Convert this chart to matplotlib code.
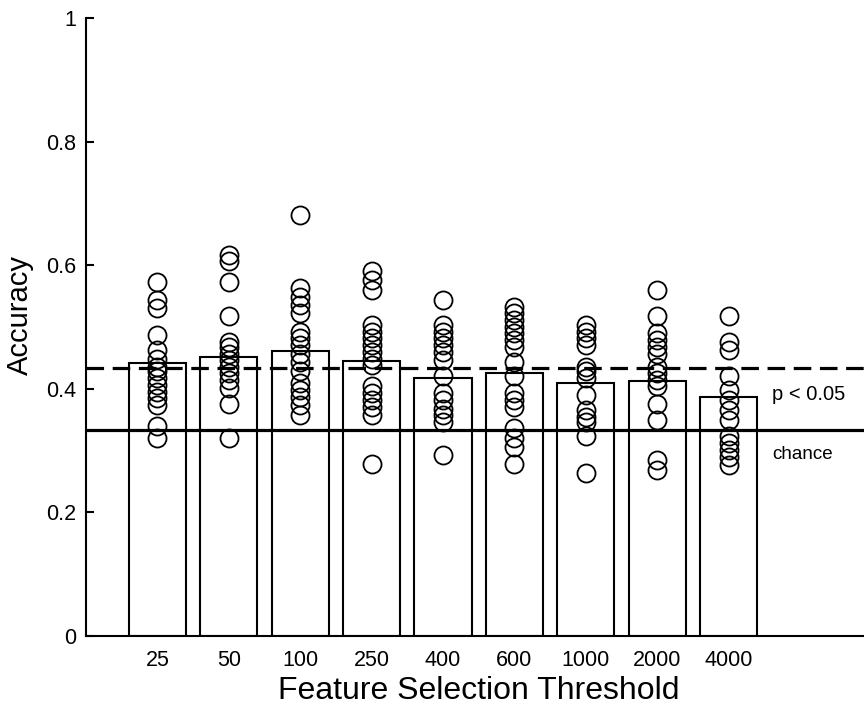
import matplotlib
matplotlib.use("Agg")
import matplotlib.pyplot as plt

plt.rcParams['font.family'] = ['Liberation Sans', 'DejaVu Sans']

thresholds = ["25", "50", "100", "250", "400", "600", "1000", "2000", "4000"]
mean_acc = [0.441, 0.452, 0.461, 0.445, 0.418, 0.425, 0.409, 0.412, 0.386]

subj_25 = [0.573, 0.544, 0.530, 0.487, 0.463, 0.449, 0.436, 0.428, 0.417, 0.406,
           0.395, 0.385, 0.374, 0.339, 0.320]
subj_50 = [0.617, 0.606, 0.573, 0.517, 0.476, 0.468, 0.457, 0.447, 0.436, 0.425,
           0.414, 0.401, 0.376, 0.320]
subj_100 = [0.681, 0.563, 0.549, 0.536, 0.522, 0.492, 0.482, 0.471, 0.457, 0.444,
            0.428, 0.409, 0.398, 0.387, 0.374, 0.358]
subj_250 = [0.590, 0.576, 0.560, 0.503, 0.492, 0.482, 0.471, 0.460, 0.449, 0.439,
            0.404, 0.393, 0.382, 0.371, 0.358, 0.279]
subj_400 = [0.544, 0.503, 0.492, 0.482, 0.471, 0.460, 0.447, 0.420, 0.393, 0.382,
            0.368, 0.358, 0.347, 0.293]
subj_600 = [0.533, 0.522, 0.511, 0.500, 0.490, 0.479, 0.468, 0.444, 0.420, 0.393,
            0.382, 0.371, 0.336, 0.320, 0.306, 0.279]
subj_1000 = [0.503, 0.492, 0.482, 0.471, 0.436, 0.428, 0.417, 0.390, 0.366, 0.355,
             0.347, 0.323, 0.263]
subj_2000 = [0.560, 0.517, 0.490, 0.479, 0.468, 0.457, 0.436, 0.425, 0.414, 0.404,
             0.376, 0.350, 0.285, 0.269]
subj_4000 = [0.517, 0.476, 0.463, 0.420, 0.398, 0.382, 0.366, 0.350, 0.323, 0.312,
             0.301, 0.290, 0.277]
subjects = [subj_25, subj_50, subj_100, subj_250, subj_400, subj_600,
            subj_1000, subj_2000, subj_4000]

chance_level = 1.0 / 3.0
p05_level = 0.433

fig = plt.figure(figsize=(8.64, 7.08), dpi=100)
ax = fig.add_axes([0.0995, 0.1017, 0.909, 0.8729])

xs = list(range(1, len(thresholds) + 1))
ax.bar(xs, mean_acc, width=0.8, facecolor='white', edgecolor='black',
       linewidth=1.5, zorder=1)

ax.axhline(p05_level, color='black', linewidth=2.3, dashes=(5.5, 2.7), zorder=2)
ax.axhline(chance_level, color='black', linewidth=2.3, zorder=2)

for x, vals in zip(xs, subjects):
    ax.plot([x] * len(vals), vals, linestyle='none', marker='o', markersize=13,
            markerfacecolor='none', markeredgecolor='black',
            markeredgewidth=1.3, zorder=3)

ax.text(9.61, 0.390, "p < 0.05", fontsize=14.5, va='center', ha='left')
ax.text(9.61, 0.293, "chance", fontsize=13.5, va='center', ha='left')

ax.set_xlim(0, 11)
ax.set_ylim(0, 1)
ax.set_xticks(xs)
ax.set_xticklabels(thresholds, fontsize=15.5)
ax.set_yticks([0, 0.2, 0.4, 0.6, 0.8, 1.0])
ax.set_yticklabels(["0", "0.2", "0.4", "0.6", "0.8", "1"], fontsize=15.5)
ax.tick_params(axis='x', length=0, pad=10)
ax.tick_params(axis='y', direction='in', length=6, width=1.5, pad=7)

for side in ['top', 'right']:
    ax.spines[side].set_visible(False)
for side in ['left', 'bottom']:
    ax.spines[side].set_linewidth(1.5)

ax.set_xlabel("Feature Selection Threshold", fontsize=23, labelpad=4)
ax.set_ylabel("Accuracy", fontsize=21)
ax.yaxis.set_label_coords(-0.066, 0.52)

fig.savefig("out.png", dpi=100)
